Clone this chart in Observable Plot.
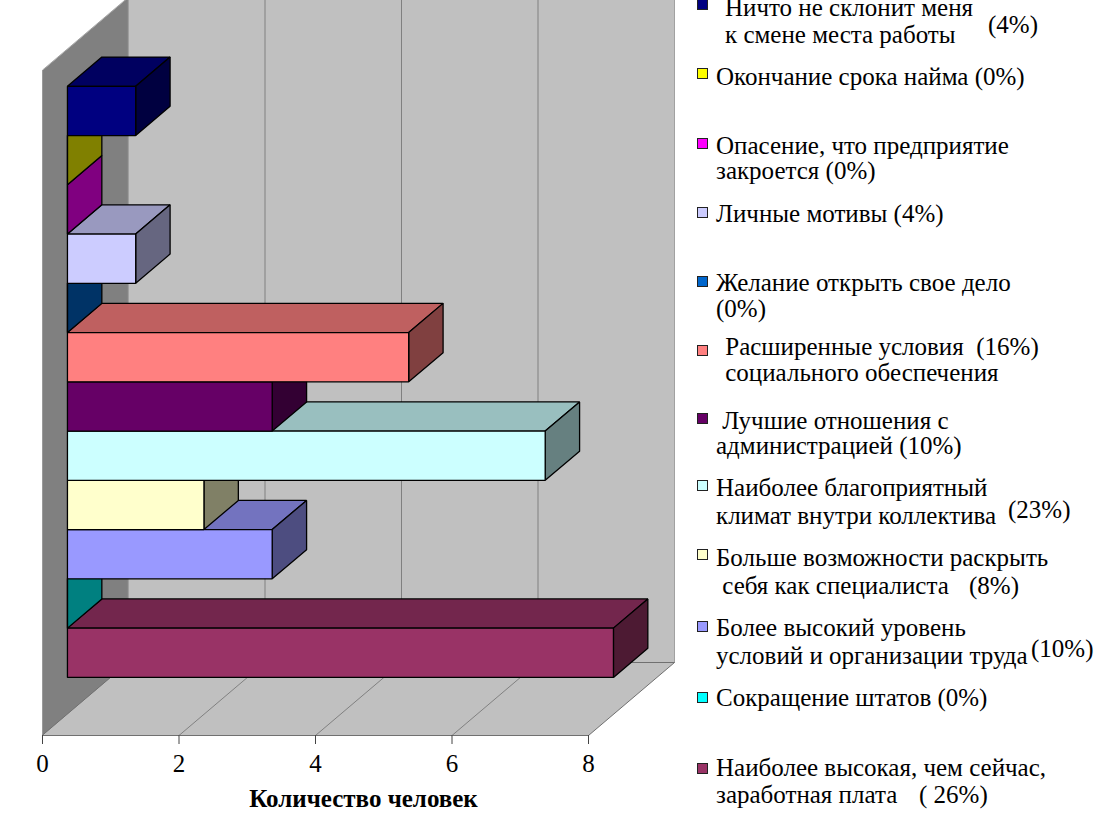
<!DOCTYPE html>
<html><head><meta charset="utf-8">
<script src="https://cdn.jsdelivr.net/npm/d3@7"></script>
<script src="https://cdn.jsdelivr.net/npm/@observablehq/plot@0.6"></script>
<style>
body{margin:0;background:#fff;}
#wrap{position:relative;width:1107px;height:830px;overflow:hidden;font-family:"Liberation Serif","Times New Roman",serif;background:#fff;}
#chart{position:absolute;left:0;top:0;}
.lg{position:absolute;font-size:25px;white-space:pre;color:#000;font-family:"Liberation Serif","Times New Roman",serif;}
.mk{position:absolute;width:9px;height:9px;border:1px solid #222;}
</style></head><body><div id="wrap"><div id="chart"></div></div>
<script>
// ---------- data ----------
const categories = [
  "Ничто не склонит меня к смене места работы",
  "Окончание срока найма",
  "Опасение, что предприятие закроется",
  "Личные мотивы",
  "Желание открыть свое дело",
  "Расширенные условия социального обеспечения",
  "Лучшие отношения с администрацией",
  "Наиболее благоприятный климат внутри коллектива",
  "Больше возможности раскрыть себя как специалиста",
  "Более высокий уровень условий и организации труда",
  "Сокращение штатов",
  "Наиболее высокая, чем сейчас, заработная плата"
];
const labelLines = [
  ["Ничто не склонит меня", "к смене места работы"],
  ["Окончание срока найма"],
  ["Опасение, что предприятие", "закроется"],
  ["Личные мотивы"],
  ["Желание открыть свое дело", ""],
  [" Расширенные условия", " социального обеспечения"],
  [" Лучшие отношения с", "администрацией"],
  ["Наиболее благоприятный", "климат внутри коллектива"],
  ["Больше возможности раскрыть", " себя как специалиста"],
  ["Более высокий уровень", "условий и организации труда"],
  ["Сокращение штатов"],
  ["Наиболее высокая, чем сейчас,", "заработная плата"]
];
const percents = ["(4%)", "(0%)", "(0%)", "(4%)", "(0%)", "(16%)", "(10%)", "(23%)", "(8%)", "(10%)", "(0%)", "( 26%)"];
const values = [1, 0, 0, 1, 0, 5, 3, 7, 2, 3, 0, 8];
const colors = ["#000080", "#ffff00", "#ff00ff", "#ccccff", "#0066cc", "#ff8080",
                "#660066", "#ccffff", "#ffffcc", "#9999ff", "#00ffff", "#993366"];
const xTicks = [0, 2, 4, 6, 8];
const xDomain = [0, 8];
const axisTitle = "Количество человек";

// ---------- pseudo-3D projection (style constants) ----------
const DX = 86 / 68.25;   // depth shift, in value units
const DY = 73 / 49.26;   // depth shift, in category units
const D0 = 0.29, D1 = 0.69; // bar depth extent
const cTop = -0.75, cBot = categories.length + 0.75;
const P = (v, c, d) => ({x: v + d * DX, y: c - d * DY});
const shade = (col, k) => { const c = d3.rgb(col); return d3.rgb(c.r * k, c.g * k, c.b * k).formatHex(); };

const walls = [];
const addPoly = (arr, id, fill, pts) => pts.forEach(p => arr.push({id, fill, ...p}));
const vMax = xDomain[1];
addPoly(walls, "left", "#808080", [P(0, cTop, 0), P(0, cBot, 0), P(0, cBot, 1), P(0, cTop, 1)]);
addPoly(walls, "back", "#c0c0c0", [P(0, cTop, 1), P(vMax, cTop, 1), P(vMax, cBot, 1), P(0, cBot, 1)]);
const floor = [];
addPoly(floor, "floor", "#c0c0c0", [P(0, cBot, 0), P(vMax, cBot, 0), P(vMax, cBot, 1), P(0, cBot, 1)]);

const grid = [];
xTicks.filter(t => t > 0 && t < vMax).forEach(t => {
  grid.push({id: "w" + t, ...P(t, cTop, 1)}, {id: "w" + t, ...P(t, cBot, 1)});
  grid.push({id: "f" + t, ...P(t, cBot, 0)}, {id: "f" + t, ...P(t, cBot, 1)});
});

const bars = [];
for (let i = categories.length - 1; i >= 0; i--) {
  const v = values[i], c0 = i, c1 = i + 1, col = colors[i];
  addPoly(bars, i + "t", shade(col, 0.75), [P(0, c0, D0), P(v, c0, D0), P(v, c0, D1), P(0, c0, D1)]);
  addPoly(bars, i + "s", shade(col, 0.5), [P(v, c0, D0), P(v, c1, D0), P(v, c1, D1), P(v, c0, D1)]);
  addPoly(bars, i + "f", col, [P(0, c0, D0), P(v, c0, D0), P(v, c1, D0), P(0, c1, D0)]);
}

const W = 690, H = 830;
const chart = Plot.plot({
  width: W, height: H,
  marginLeft: 42, marginRight: W - 588, marginTop: 70, marginBottom: H - 735,
  x: {domain: xDomain, label: null},
  y: {domain: [cBot, cTop], axis: null, label: null},
  color: {type: "identity"},
  style: {fontFamily: "'Liberation Serif', 'Times New Roman', serif", fontSize: "25px", background: "#fff", overflow: "hidden"},
  marks: [
    Plot.line(walls, {x: "x", y: "y", z: "id", fill: "fill", stroke: "#909090", strokeWidth: 0.8, curve: "linear-closed"}),
    Plot.line(floor, {x: "x", y: "y", z: "id", fill: "fill", stroke: "#707070", strokeWidth: 1, curve: "linear-closed"}),
    Plot.line(grid, {x: "x", y: "y", z: "id", stroke: "#808080", strokeWidth: 1}),
    Plot.line(bars, {x: "x", y: "y", z: "id", fill: "fill", stroke: "#000", strokeWidth: 1.3, strokeLinejoin: "miter", curve: "linear-closed"}),
    Plot.axisX(xTicks, {tickSize: 9, tickPadding: 10, fontSize: 25, stroke: "#444", label: null, tickFormat: d => String(d)}),
    Plot.text([axisTitle], {frameAnchor: "bottom", dx: 48, dy: 71, fontWeight: "bold", fontSize: 25})
  ]
});
document.getElementById("chart").appendChild(chart);

// ---------- legend (HTML) ----------
// x: text left; b: baselines of the lines; mk: marker top;
// pct: {line, x (left of the percent text), raise} or {line, sep} for inline
const legendLayout = [
  {mk: -1,  x: 725, b: [16, 43],   pct: {line: 1, x: 988, raise: 10}},
  {mk: 68,  x: 716, b: [85],       pct: {line: 0, sep: " "}},
  {mk: 138, x: 716, b: [154, 179], pct: {line: 1, sep: " "}},
  {mk: 207, x: 716, b: [222],      pct: {line: 0, sep: " "}},
  {mk: 276, x: 716, b: [291, 317], pct: {line: 1, sep: ""}},
  {mk: 345, x: 719, b: [355, 381], pct: {line: 0, sep: "  "}},
  {mk: 413, x: 716, b: [429, 454], pct: {line: 1, sep: " "}},
  {mk: 480, x: 716, b: [496, 524], pct: {line: 1, x: 1008, raise: 6}},
  {mk: 549, x: 716, b: [566, 594], pct: {line: 1, x: 969, raise: 0}},
  {mk: 621, x: 716, b: [636, 664], pct: {line: 1, x: 1031, raise: 7}},
  {mk: 692, x: 716, b: [706],      pct: {line: 0, sep: " "}},
  {mk: 763, x: 716, b: [776, 803], pct: {line: 1, x: 919, raise: 0}}
];
const wrap = document.getElementById("wrap");
labelLines.forEach((lines, i) => {
  const L = legendLayout[i];
  const mk = document.createElement("div");
  mk.className = "mk";
  mk.style.left = "697px"; mk.style.top = L.mk + "px"; mk.style.background = colors[i];
  wrap.appendChild(mk);

  const lh = L.b.length > 1 ? L.b[1] - L.b[0] : 25;
  const d = document.createElement("div");
  d.className = "lg";
  d.style.left = L.x + "px";
  d.style.lineHeight = lh + "px";
  d.style.top = (L.b[0] - (lh / 2 + 8.45)) + "px";
  wrap.appendChild(d);
  lines.forEach((t, j) => {
    if (j > 0) d.appendChild(document.createTextNode("\n"));
    const s = document.createElement("span");
    s.textContent = (L.pct.line === j && L.pct.sep !== undefined) ? t + L.pct.sep + percents[i] : t;
    d.appendChild(s);
    if (L.pct.line === j && L.pct.sep === undefined) {
      const p = document.createElement("span");
      p.textContent = percents[i];
      p.style.position = "relative";
      p.style.top = (-L.pct.raise) + "px";
      d.appendChild(p);
      const right = s.getBoundingClientRect().right - wrap.getBoundingClientRect().left;
      p.style.marginLeft = Math.max(0, L.pct.x - right) + "px";
    }
  });
});
</script></body></html>
